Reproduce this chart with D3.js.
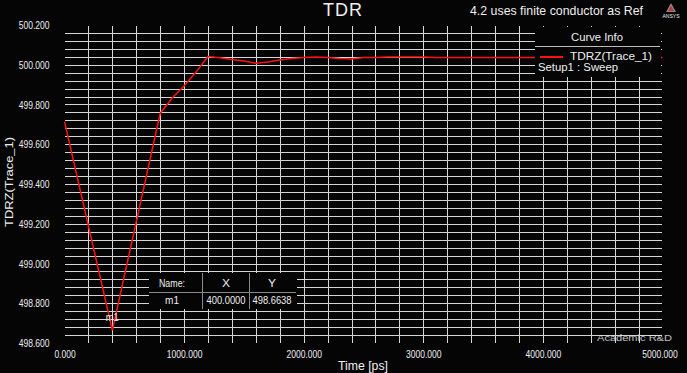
<!DOCTYPE html>
<html>
<head>
<meta charset="utf-8">
<script src="https://cdn.jsdelivr.net/npm/d3@7"></script>
<style>
  body{margin:0;background:#050505;}
  svg{display:block;}
  text{font-family:"Liberation Sans",Arial,sans-serif;fill:#eeeeee;}
</style>
</head>
<body>
<div id="chart"></div>
<script>
// curve samples (time ps / TDR value)
var timePs = [0,400,800,900,1000,1100,1200,1300,1400,1500,1600,1700,1800,1900,2000,2100,2200,2300,2400,2500,2600,2700,2800,2900,3000,3100,3500,4000,4500,5000];
var tdrVal = [499.714,498.6638,499.755,499.833,499.893,499.963,500.0415,500.0355,500.027,500.019,500.007,500.014,500.024,500.031,500.037,500.039,500.036,500.031,500.029,500.036,500.036,500.039,500.039,500.039,500.039,500.036,500.036,500.036,500.036,500.036];
var xTicks = [0,1000,2000,3000,4000,5000];
var yTicks = [498.6,498.8,499.0,499.2,499.4,499.6,499.8,500.0,500.2];
var markerName = ["m1"];
var markerX = [400];
var markerY = [498.6638];

var W = 687, H = 373;
var svg = d3.select("#chart").append("svg").attr("width",W).attr("height",H);
svg.append("rect").attr("width",W).attr("height",H).attr("fill","#050505");

// squeeze text to a narrow look
function fit(sel, len){
  sel.attr("textLength",len).attr("lengthAdjust","spacingAndGlyphs");
  return sel;
}
function numLen(s){
  var n=0;
  for(var i=0;i<s.length;i++){ n += (s[i]=="." ? 2 : 4.8); }
  return n;
}

var x = d3.scaleLinear().domain([0,5000]).range([64.5,662.5]);
var y = d3.scaleLinear().domain([498.6,500.2]).range([343,25]);

// grid (interior lines only)
var gx = d3.range(1,25).map(function(i){return i*200;});
var gy = d3.range(1,40).map(function(i){return 498.6+i*0.04;});
svg.append("g").selectAll("line").data(gx).enter().append("line")
  .attr("x1",function(d){return Math.round(x(d))+0.5;})
  .attr("x2",function(d){return Math.round(x(d))+0.5;})
  .attr("y1",26).attr("y2",343)
  .attr("stroke","#d6d6d6").attr("stroke-width",1);
svg.append("g").selectAll("line").data(gy).enter().append("line")
  .attr("x1",65).attr("x2",662)
  .attr("y1",function(d){return Math.round(y(d))+0.5;})
  .attr("y2",function(d){return Math.round(y(d))+0.5;})
  .attr("stroke","#d6d6d6").attr("stroke-width",1);

// axes
var fmt = d3.format(".3f");
var xa = svg.append("g").attr("transform","translate(0,343)")
  .call(d3.axisBottom(x).tickValues(xTicks).tickSize(0).tickPadding(7).tickFormat(fmt));
var ya = svg.append("g").attr("transform","translate(64.5,0)")
  .call(d3.axisLeft(y).tickValues(yTicks).tickSize(0).tickPadding(15).tickFormat(fmt));
[xa,ya].forEach(function(a){
  a.select(".domain").remove();
  a.attr("font-family",null);
  a.selectAll("text").attr("font-size",11).attr("fill","#eeeeee")
    .attr("textLength",function(d){return numLen(fmt(d));})
    .attr("lengthAdjust","spacingAndGlyphs");
});
// last x label sits a bit inside the edge
xa.selectAll("text").filter(function(d){return d==5000;}).attr("dx",-3);

// curve
var data = timePs.map(function(t,i){return {t:t,v:tdrVal[i]};});
var line = d3.line().x(function(d){return x(d.t);}).y(function(d){return y(d.v);});
svg.append("path").attr("d",line(data))
  .attr("fill","none").attr("stroke","#ff1010").attr("stroke-width",1.5);

// marker label
fit(svg.append("text").attr("x",x(markerX[0])).attr("y",y(markerY[0])-9)
  .attr("text-anchor","middle").attr("font-size",10).attr("fill","#f4f0c8").text(markerName[0]),13);

// marker table
var tb = svg.append("g");
tb.append("rect").attr("x",149).attr("y",273).attr("width",148).attr("height",36).attr("fill","#050505");
tb.append("line").attr("x1",149).attr("x2",296).attr("y1",292.5).attr("y2",292.5).attr("stroke","#8a8a8a");
[202.5,249.5].forEach(function(cx){
  tb.append("line").attr("x1",cx).attr("x2",cx).attr("y1",273).attr("y2",309).attr("stroke","#8a8a8a");
});
var cols = [172,226,272];
var heads = ["Name:","X","Y"], headLen = [26,8,8];
heads.forEach(function(s,i){
  fit(tb.append("text").attr("x",cols[i]).attr("y",287).attr("text-anchor","middle").attr("font-size",11).text(s),headLen[i]);
});
var row = [markerName[0], markerX[0].toFixed(4), markerY[0].toFixed(4)], rowLen = [14,39,39];
row.forEach(function(s,i){
  fit(tb.append("text").attr("x",cols[i]).attr("y",304).attr("text-anchor","middle").attr("font-size",10).text(s),rowLen[i]);
});

// legend
var lg = svg.append("g");
lg.append("rect").attr("x",535).attr("y",27).attr("width",126).attr("height",50).attr("fill","#050505");
fit(lg.append("text").attr("x",597).attr("y",41).attr("text-anchor","middle").attr("font-size",10).text("Curve Info"),52);
lg.append("line").attr("x1",535).attr("x2",660).attr("y1",46.5).attr("y2",46.5).attr("stroke","#bbbbbb");
lg.append("line").attr("x1",540).attr("x2",563).attr("y1",57).attr("y2",57).attr("stroke","#ff1010").attr("stroke-width",2);
fit(lg.append("text").attr("x",570).attr("y",60).attr("font-size",10).text("TDRZ(Trace_1)"),82);
fit(lg.append("text").attr("x",538).attr("y",71).attr("font-size",10).text("Setup1 : Sweep"),80);

// titles
svg.append("text").attr("x",343).attr("y",16).attr("text-anchor","middle")
  .attr("font-size",18).attr("letter-spacing",1).attr("fill","#e8f0ff").text("TDR");
fit(svg.append("text").attr("x",470).attr("y",15)
  .attr("font-size",13).text("4.2 uses finite conductor as Ref"),173);
fit(svg.append("text").attr("x",338).attr("y",370)
  .attr("font-size",12).text("Time [ps]"),50);
fit(svg.append("text").attr("transform","translate(13,182) rotate(-90)").attr("text-anchor","middle")
  .attr("font-size",10).text("TDRZ(Trace_1)"),90);

// logo
var lo = svg.append("g");
lo.append("path").attr("d","M671,3 L676,12 L666,12 Z").attr("fill","#888888");
lo.append("path").attr("d","M671,6 L674,11 L668,11 Z").attr("fill","#d03030");
lo.append("text").attr("x",671).attr("y",18).attr("text-anchor","middle").attr("font-size",5).attr("fill","#cc4444").text("ANSYS");

// watermark
fit(svg.append("text").attr("x",597).attr("y",341)
  .attr("font-size",9).attr("fill","#777777").attr("opacity",0.8).text("Academic R&D"),75);
</script>
</body>
</html>
